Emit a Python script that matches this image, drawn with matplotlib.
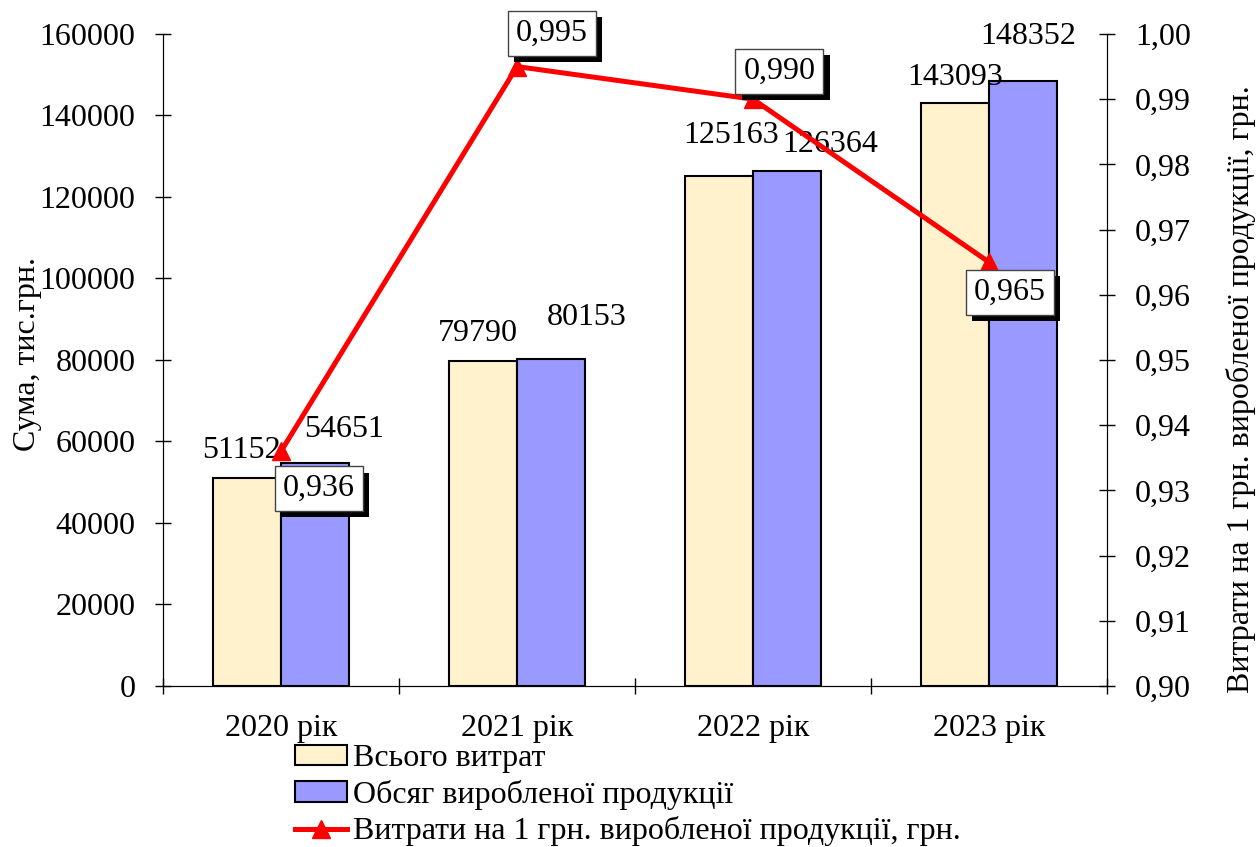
import matplotlib
matplotlib.use("Agg")
import numpy as np
import matplotlib.pyplot as plt
import matplotlib.patheffects as pe

plt.rcParams['font.family'] = ['Liberation Serif', 'DejaVu Serif']
plt.rcParams['font.size'] = 23

years = ["2020 рік", "2021 рік", "2022 рік", "2023 рік"]
costs = [51152, 79790, 125163, 143093]
output = [54651, 80153, 126364, 148352]
cost_per_uah = [0.936, 0.995, 0.990, 0.965]

# label offsets in points (dx, dy) from the top centre of each bar
cost_offsets = [(-4, 14), (-4, 14), (9, 24), (0, 13)]
output_offsets = [(21, 19), (26, 25), (31, 14), (4, 27)]
# offsets of the ratio boxes from each line point
ratio_offsets = [(27, -27), (25, 24), (19, 20), (15, -22)]

fig = plt.figure(figsize=(12.59, 8.47), dpi=100)
ax = fig.add_axes([0.1295, 0.1901, 0.7498, 0.7698])
ax2 = ax.twinx()

x = np.arange(len(years))
w = 0.288
b1 = ax.bar(x - w / 2, costs, w, color='#FFF2CC', edgecolor='black', lw=1.5,
            label='Всього витрат', zorder=2)
b2 = ax.bar(x + w / 2, output, w, color='#9999FF', edgecolor='black', lw=1.5,
            label='Обсяг виробленої продукції', zorder=2)

for xi, v, off in zip(x - w / 2, costs, cost_offsets):
    ax.annotate(str(v), (xi, v), xytext=off, textcoords='offset points',
                ha='center', va='baseline')
for xi, v, off in zip(x + w / 2, output, output_offsets):
    ax.annotate(str(v), (xi, v), xytext=off, textcoords='offset points',
                ha='center', va='baseline')

ax.set_xlim(-0.5, len(years) - 0.5)
ax.set_ylim(0, 160000)
ax.set_yticks(np.arange(0, 160001, 20000))
ax.set_xticks(np.arange(-0.5, len(years), 1.0))
ax.set_xticklabels([])
ax.set_xticks(x, minor=True)
ax.set_xticklabels(years, minor=True)
ax.tick_params(axis='x', which='minor', length=0, pad=20)
ax.tick_params(axis='x', which='major', direction='inout', length=12, width=1)
ax.tick_params(axis='y', direction='inout', length=12, width=1, pad=14)
ax.spines['top'].set_visible(False)
ax.set_ylabel('Сума, тис.грн.')
ax.yaxis.set_label_coords(-0.128, 0.509)

line, = ax2.plot(x, cost_per_uah, color='#FF0000', lw=3.6, marker='^',
                 markersize=13, label='Витрати на 1 грн. виробленої продукції, грн.',
                 zorder=3)
ax2.set_ylim(0.90, 1.00)
ticks2 = np.arange(0.90, 1.0001, 0.01)
ax2.set_yticks(ticks2)
ax2.set_yticklabels([f"{t:.2f}".replace('.', ',') for t in ticks2])
ax2.tick_params(axis='y', direction='inout', length=12, width=1, pad=14)
ax2.spines['top'].set_visible(False)
ax2.set_ylabel('Витрати на 1 грн. виробленої продукції, грн.')
ax2.yaxis.set_label_coords(1.126, 0.455)

for xi, v, off in zip(x, cost_per_uah, ratio_offsets):
    t = ax2.annotate(f"{v:.3f}".replace('.', ','), (xi, v), xytext=off,
                     textcoords='offset points', ha='center', va='center',
                     zorder=5,
                     bbox=dict(boxstyle='square,pad=0.25', fc='white', ec='#444444', lw=1))
    t.get_bbox_patch().set_path_effects([
        pe.SimplePatchShadow(offset=(4.5, -4.5), shadow_rgbFace='black', alpha=1),
        pe.Normal()])

fig.legend([b1, b2, line], [b1.get_label(), b2.get_label(), line.get_label()],
           loc='upper left', bbox_to_anchor=(295 / 1259, 1 - 744 / 847),
           frameon=False, borderpad=0, handlelength=1.62, handleheight=0.6,
           handletextpad=0.19, labelspacing=0.21, borderaxespad=0)

fig.savefig('out.png', dpi=100)
